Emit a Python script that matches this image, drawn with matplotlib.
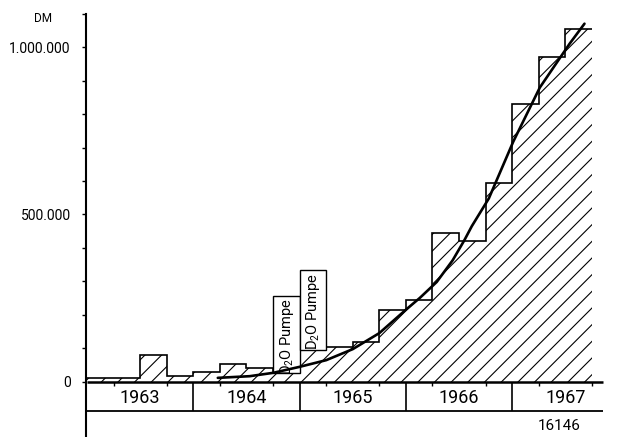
import matplotlib.pyplot as plt
import numpy as np

plt.rcParams['font.family'] = ['Roboto', 'DejaVu Sans']
plt.rcParams['mathtext.default'] = 'regular'
plt.rcParams['hatch.color'] = 'black'
plt.rcParams['hatch.linewidth'] = 0.8


# quarterly spending, 1963 Q1 .. 1967 Q3 (DM)
years = [1963, 1964, 1965, 1966, 1967]
quarter_values = [10000, 10000, 80000, 18000,
                  28000, 52000, 40000, 27000,
                  95000, 104000, 118000, 215000,
                  244000, 444000, 422000, 594000,
                  830000, 970000, 1054000]

# special items stacked on top (D2O pump)
pump_quarters = [1964.75, 1965.0]
pump_tops = [255000, 334000]
pump_label = 'D$_2$O Pumpe'

# smooth trend line
curve_t = [1964.23, 1964.53, 1964.75, 1965.0, 1965.25, 1965.5, 1965.75, 1966.0,
           1966.13, 1966.29, 1966.44, 1966.55, 1966.62, 1966.78, 1967.01,
           1967.26, 1967.54, 1967.68]
curve_v = [11000, 16000, 26000, 44000, 64000, 97000, 145000, 215000,
           250000, 298000, 363000, 423000, 465000, 548000, 718000,
           880000, 1011000, 1071000]

ytick_vals = [0, 500000, 1000000]
ytick_labels = ['0', '500.000', '1.000.000']


fig = plt.figure(figsize=(6.17, 4.37), dpi=100)
ax = fig.add_axes([86/617, 0, 531/617, 423/437])

edges = years[0] + np.arange(len(quarter_values) + 1) * 0.25
ax.bar(edges[:-1], quarter_values, width=0.25, align='edge', facecolor='white',
       edgecolor='black', linewidth=0, hatch='//', zorder=1)
ax.stairs(quarter_values, edges, baseline=None, color='black', linewidth=1.2, zorder=2)

# pump boxes
base = [quarter_values[int(round((q - years[0]) * 4))] for q in pump_quarters]
for q, b, top in zip(pump_quarters, base, pump_tops):
    ax.bar(q, top - b, bottom=b, width=0.25, align='edge', facecolor='white',
           edgecolor='black', linewidth=1.0, zorder=3)
    ax.text(q + 0.13, b + (top - b) * 0.48, pump_label, rotation=90, ha='center',
            va='center', fontsize=10.5, zorder=4)

ax.plot(curve_t, curve_v, color='black', linewidth=1.9, zorder=5, solid_capstyle='round')

# year strip under the axis
row_bottom = -87000
x_end = 1967.85
ax.hlines(0, years[0], x_end, color='black', linewidth=1.8, zorder=6)
ax.hlines(row_bottom, years[0], x_end, color='black', linewidth=1.3, zorder=6)
ax.vlines(years[1:], row_bottom, 0, color='black', linewidth=1.2, zorder=6)
for y in years:
    ax.vlines([y + 0.25, y + 0.75], -12000, 0, color='black', linewidth=1.0, zorder=6)
    ax.text(y + 0.5, -50000, str(y), ha='center', va='center', fontsize=13)

ax.set_xlim(1962.99, 1967.986)
ax.set_ylim(-166000, 1100000)

for s in ['top', 'right', 'bottom']:
    ax.spines[s].set_visible(False)
ax.spines['left'].set_linewidth(1.5)
ax.set_xticks([])
ax.set_yticks(ytick_vals)
ax.set_yticklabels(ytick_labels, fontsize=10)
ax.set_yticks(np.arange(0, 1100001, 100000), minor=True)
ax.tick_params(axis='y', which='both', direction='out', length=3, width=1.0, pad=8)

fig.text(43/617, 1 - 19/437, 'DM', ha='center', va='center', fontsize=8.5)
fig.text(559/617, 1 - 426/437, '16146', ha='center', va='center', fontsize=11)

fig.savefig('out.png', dpi=100)
